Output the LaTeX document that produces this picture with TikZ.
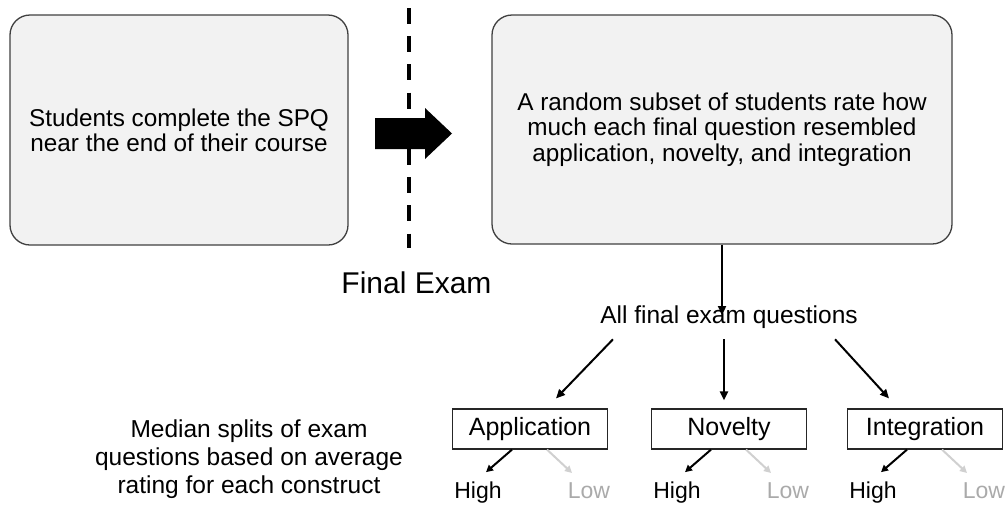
\documentclass[tikz,border=0pt]{standalone}
\usepackage{fontspec}
\setmainfont{Liberation Sans}
\usetikzlibrary{calc,arrows.meta}
\definecolor{boxfill}{HTML}{F2F2F2}
\definecolor{boxline}{HTML}{404040}
\definecolor{lowgray}{HTML}{AAAAAA}
\definecolor{lowarrow}{HTML}{D0D0D0}
\begin{document}
\begin{tikzpicture}[x=1pt,y=-1pt,
  bigbox/.style={draw=boxline, fill=boxfill, line width=1.3pt, rounded corners=20pt,
    align=center, inner sep=0pt, font=\fontsize{24.3}{25.3}\selectfont},
  catbox/.style={draw=black!85, line width=1.2pt, minimum width=155pt, minimum height=40pt,
    inner sep=0pt, font=\fontsize{25}{28}\selectfont},
  lbl/.style={inner sep=0pt, anchor=base},
  conn/.style={line width=2pt, -{Triangle[length=9pt,width=8pt]}},
  hiconn/.style={line width=2pt, -{Triangle[length=7pt,width=7pt]}},
  loconn/.style={line width=2pt, color=lowarrow, -{Triangle[length=7pt,width=7pt]}},
  hilo/.style={lbl, font=\fontsize{23}{26}\selectfont}
]
\useasboundingbox (0,0) rectangle (1008,507);

% top boxes
\node[bigbox, minimum width=338pt, minimum height=230pt] (lb) at (179,130)
  {Students complete the SPQ\\near the end of their course};
\node[bigbox, minimum width=460pt, minimum height=229pt] (rb) at (722,129.5)
  {A random subset of students rate how\\much each final question resembled\\application, novelty, and integration};

% dashed exam line
\coordinate (dtop) at (409,8);
\coordinate (dbot) at (409,248);
\draw[line width=3.5pt, dash pattern=on 16pt off 12.2pt] (dtop) -- (dbot);

% big arrow
\fill[black] (375,118) -- (425,118) -- (425,108) -- (452,133.5) -- (425,159) -- (425,149) -- (375,149) -- cycle;

\node[lbl, font=\fontsize{30}{32}\selectfont] (fe) at (416.5,293) {Final Exam};

% all questions
\node[lbl, font=\fontsize{24.5}{27}\selectfont] (allq) at (729,323) {All final exam questions};
\draw[conn] (rb.south) -- ($(allq.north)+(-7,10)$);

% category boxes
\node[catbox] (app) at (530,429) {Application};
\node[catbox] (nov) at (729,429) {Novelty};
\node[catbox] (int) at (925,429) {Integration};

\draw[conn] ($(allq.south)+(-116,11)$) -- ($(app.north)+(26,-10)$);
\draw[conn] ($(allq.south)+(-5,11)$) -- ($(nov.north)+(-5,-8)$);
\draw[conn] ($(allq.south)+(106,11)$) -- ($(int.north)+(-36,-10)$);

% high / low
\foreach \b/\n in {app/a, nov/n, int/i}{
  \node[hilo] (\n hi) at ($(\b.center)+(-52,69)$) {High};
  \node[hilo, text=lowgray] (\n lo) at ($(\b.center)+(59,69)$) {Low};
  \draw[hiconn] ($(\b.south)+(-18,0)$) -- ($(\n hi.north)+(8,-9)$);
  \draw[loconn] ($(\b.south)+(17,0)$) -- ($(\n lo.north)+(-17,-9)$);
}

\node[align=center, inner sep=0pt, font=\fontsize{24.5}{28}\selectfont, anchor=base] (med) at (249,493)
  {Median splits of exam\\questions based on average\\rating for each construct};
\end{tikzpicture}
\end{document}
